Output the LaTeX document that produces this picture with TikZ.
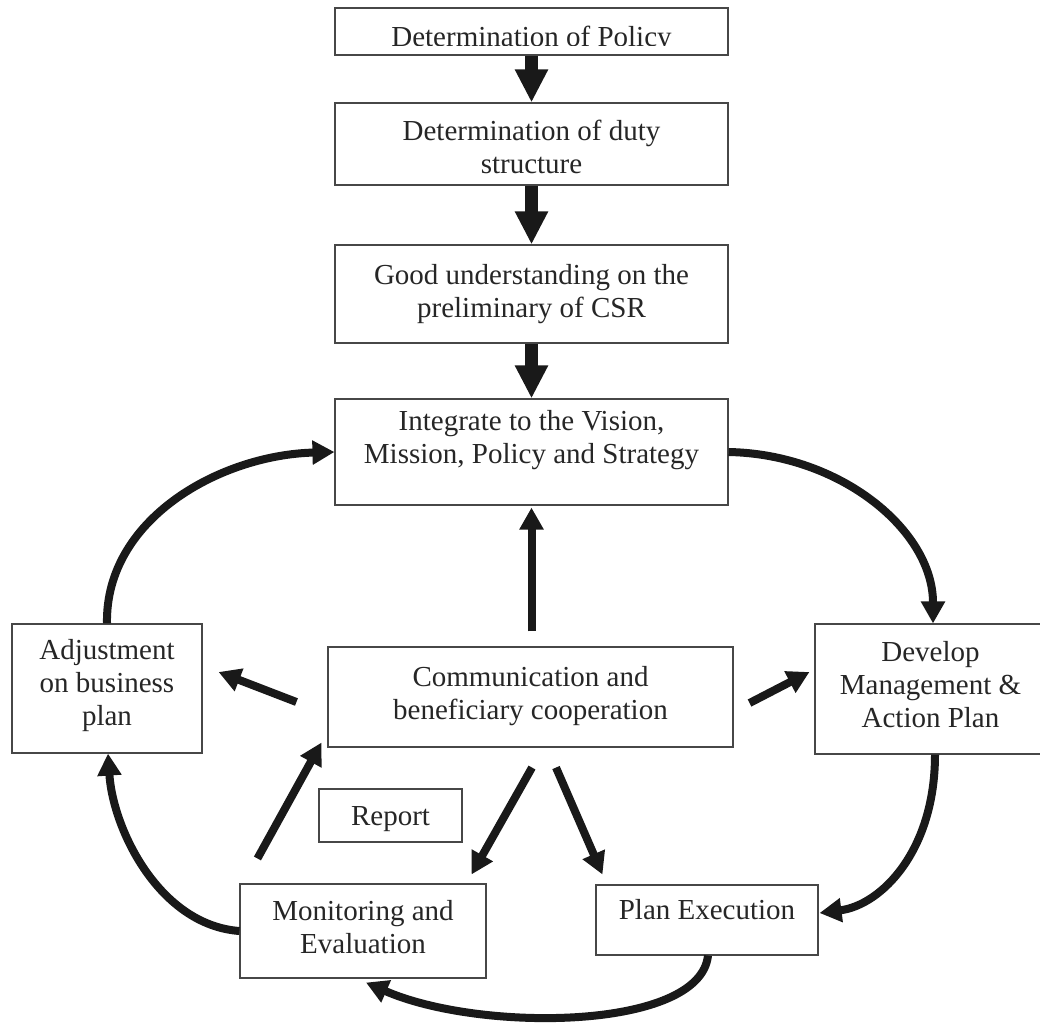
\documentclass[tikz,border=0pt]{standalone}
\usepackage{fontspec}
\setmainfont{Liberation Serif}
\usetikzlibrary{arrows.meta,calc}
\begin{document}
\begin{tikzpicture}[x=1pt,y=-1pt,
  box/.style={draw=black!72, line width=1.1pt, fill=white, inner sep=0pt},
  txt/.style={font=\fontsize{29}{33}\selectfont, align=center, text=black!85},
  bigarrow/.style={line width=13pt, draw=black!90, -{Triangle[width=31pt,length=33pt]}},
  carrow/.style={line width=8pt, draw=black!90, -{Triangle[width=23pt,length=22pt]}}]
\useasboundingbox[fill=white] (0,0) rectangle (1040,1026);

% column
\node[box, minimum width=393pt, minimum height=47pt,
  label={[txt,yshift=-7.75pt]center:Determination of Policy}] (pol) at (531.5,31.5) {};
\fill[white] ($(pol.south west)+(2,-1.3)$) rectangle ($(pol.south east)+(-2,-9.5)$);
\node[box, minimum width=393pt, minimum height=82pt,
  label={[txt,yshift=-3pt]center:{Determination of duty\\structure}}] (duty) at (531.5,144) {};
\node[box, minimum width=393pt, minimum height=98pt,
  label={[txt]center:{Good understanding on the\\preliminary of CSR}}] (csr) at (531.5,294) {};
\node[box, minimum width=393pt, minimum height=106pt,
  label={[txt,yshift=12pt]center:{Integrate to the Vision,\\Mission, Policy and Strategy}}] (integ) at (531.5,452) {};

% middle row
\node[box, minimum width=190pt, minimum height=129pt,
  label={[txt,yshift=3pt]center:{Adjustment\\on business\\plan}}] (adj) at (107,688.5) {};
\node[box, minimum width=405pt, minimum height=100pt,
  label={[txt,yshift=1pt]center:{Communication and\\beneficiary cooperation}}] (comm) at (530.5,697) {};
\node[box, minimum width=231pt, minimum height=130pt,
  label={[txt,yshift=4pt]center:{Develop\\Management \&\\Action Plan}}] (dev) at (930.5,689) {};

% bottom
\node[box, minimum width=143pt, minimum height=53pt,
  label={[txt,yshift=-4pt]center:Report}] (rep) at (390.5,815.5) {};
\node[box, minimum width=246pt, minimum height=94pt,
  label={[txt,yshift=4pt]center:{Monitoring and\\Evaluation}}] (mon) at (363,931) {};
\node[box, minimum width=222pt, minimum height=70pt,
  label={[txt,yshift=10pt]center:Plan Execution}] (pe) at (707,920) {};

% column arrows
\draw[bigarrow] (pol) -- (duty);
\draw[bigarrow] (duty) -- (csr);
\draw[bigarrow] (csr) -- (integ);

% cycle arrows
\draw[carrow] (adj.north) .. controls +(-2,-104) and +(-115,3) .. (integ.west);
\draw[carrow] (integ.east) .. controls +(112,2) and +(0,-93) .. ($(dev.north)+(2.5,0)$);
\draw[carrow] ($(dev.south)+(4.5,0)$) .. controls +(0,96) and +(62,-8) .. ($(pe.east)+(1,-7)$);
\draw[carrow] ($(pe.south)+(1,0)$) .. controls +(-8,75) and +(114,50) .. ($(mon.south)+(3,4)$);
\draw[carrow] (mon.west) .. controls +(-80,-6) and +(5,76) .. ($(adj.south)+(1,0)$);

% straight arrows from/to communication
\draw[carrow] ($(comm.north)+(1,-15)$) -- ($(integ.south)+(0,2)$);
\draw[carrow] ($(comm.west)+(-31,5)$) -- ($(adj.east)+(16,-16.5)$);
\draw[carrow] ($(comm.east)+(16,6)$) -- ($(dev.west)+(-5,-17)$);
\draw[carrow] ($(mon.north west)+(18,-25)$) -- ($(comm.south west)+(-6,-5)$);
\draw[carrow] ($(comm.south)+(1.5,20)$) -- ($(mon.north east)+(-15,-9)$);
\draw[carrow] ($(comm.south)+(25.5,20)$) -- ($(pe.north west)+(7,-10)$);
\end{tikzpicture}
\end{document}
